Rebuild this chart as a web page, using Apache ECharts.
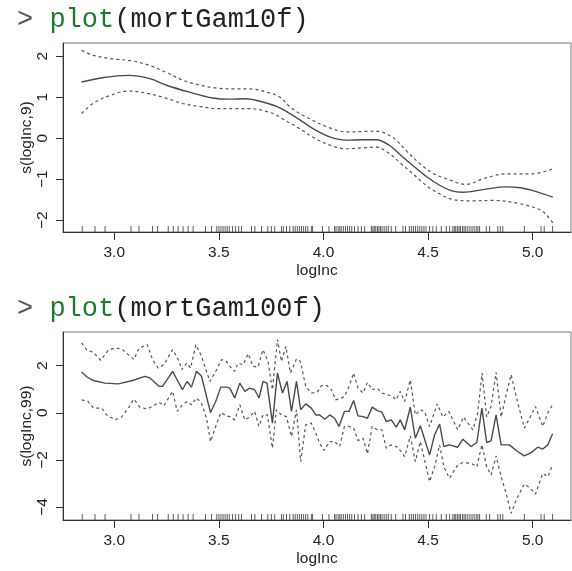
<!DOCTYPE html>
<html><head><meta charset="utf-8">
<script src="https://cdn.jsdelivr.net/npm/echarts@6/dist/echarts.min.js"></script>
<style>html,body{margin:0;padding:0;background:#fff}#c{width:572px;height:571px}</style>
</head><body><div id="c"></div>
<script>
// ---- tick labels ----
const xTicks = [3.0, 3.5, 4.0, 4.5, 5.0];
const yTicksTop = [-2, -1, 0, 1, 2];
const yTicksBot = [-4, -2, 0, 2];
const titleTop = 'mortGam10f';
const titleBot = 'mortGam100f';
const yNameTop = 's(logInc,9)';
const yNameBot = 's(logInc,99)';
const xName = 'logInc';

// ---- rug (observed logInc values) ----
const rugX = [2.847, 2.908, 2.956, 3.080, 3.118, 3.183, 3.207, 3.258, 3.282, 3.305, 3.329, 3.353, 3.377,
  3.436, 3.465, 3.49, 3.50, 3.51, 3.52, 3.53, 3.54, 3.55, 3.565, 3.58, 3.595, 3.608, 3.656, 3.672,
  3.704, 3.734, 3.751, 3.767, 3.799, 3.808, 3.823, 3.839, 3.855, 3.865, 3.875, 3.885, 3.895, 3.905,
  3.915, 3.925, 3.942, 3.948, 3.995, 4.026, 4.053, 4.06, 4.07, 4.078, 4.085, 4.095, 4.105, 4.115,
  4.125, 4.135, 4.148, 4.165, 4.181, 4.197, 4.229, 4.236, 4.243, 4.25, 4.258, 4.265, 4.272, 4.28,
  4.29, 4.30, 4.31, 4.324, 4.345, 4.38, 4.392, 4.41, 4.42, 4.43, 4.44, 4.45, 4.46, 4.47, 4.48, 4.49,
  4.507, 4.523, 4.539, 4.563, 4.587, 4.603, 4.618, 4.625, 4.632, 4.64, 4.648, 4.655, 4.665, 4.672,
  4.68, 4.69, 4.70, 4.71, 4.72, 4.73, 4.738, 4.746, 4.778, 4.794, 4.833, 4.845, 4.857, 4.96, 5.04,
  5.055, 5.095];

// ---- top panel: s(logInc,9) ----
const fitTopX = [2.844, 2.95, 3.067, 3.17, 3.25, 3.36, 3.47, 3.55, 3.63, 3.71, 3.791, 3.886, 3.95, 4.03,
  4.11, 4.18, 4.253, 4.316, 4.37, 4.427, 4.49, 4.555, 4.61, 4.666, 4.77, 4.873, 4.94, 5.0, 5.05, 5.096];
const fitTopY = [1.37, 1.48, 1.53, 1.45, 1.29, 1.12, 0.98, 0.95, 0.96, 0.88, 0.74, 0.45, 0.23, 0.03,
  -0.05, -0.04, -0.04, -0.18, -0.42, -0.67, -0.93, -1.15, -1.28, -1.32, -1.25, -1.19, -1.21, -1.28, -1.36, -1.44];
const upTopX = [2.844, 2.90, 2.98, 3.09, 3.17, 3.25, 3.33, 3.41, 3.49, 3.57, 3.65, 3.73, 3.791, 3.85,
  3.95, 4.03, 4.11, 4.18, 4.253, 4.33, 4.40, 4.46, 4.52, 4.587, 4.68, 4.77, 4.873, 5.0, 5.096];
const upTopY = [2.14, 2.02, 1.94, 1.88, 1.77, 1.60, 1.41, 1.29, 1.22, 1.20, 1.20, 1.12, 1.00, 0.72,
  0.43, 0.25, 0.15, 0.16, 0.17, 0.02, -0.33, -0.62, -0.85, -0.99, -1.13, -0.98, -0.87, -0.87, -0.75];
const loTopX = [2.844, 2.90, 2.98, 3.067, 3.17, 3.25, 3.33, 3.41, 3.49, 3.57, 3.65, 3.76, 3.791, 3.886,
  3.95, 4.03, 4.11, 4.18, 4.253, 4.316, 4.37, 4.427, 4.49, 4.54, 4.62, 4.71, 4.81, 4.94, 5.04, 5.07, 5.096];
const loTopY = [0.60, 0.85, 1.04, 1.15, 1.08, 0.97, 0.84, 0.77, 0.72, 0.72, 0.72, 0.60, 0.51, 0.23,
  0.02, -0.17, -0.26, -0.24, -0.22, -0.38, -0.62, -0.87, -1.15, -1.32, -1.50, -1.53, -1.52, -1.60, -1.76, -1.90, -2.07];

// ---- bottom panel: s(logInc,99) ----
const fitBotX = [2.844, 2.87, 2.90, 2.956, 3.019, 3.083, 3.147, 3.17, 3.215, 3.231, 3.279, 3.326, 3.348,
  3.369, 3.393, 3.417, 3.46, 3.485, 3.509, 3.536, 3.552, 3.576, 3.60, 3.624, 3.647, 3.671, 3.692, 3.711,
  3.73, 3.756, 3.78, 3.804, 3.826, 3.847, 3.871, 3.891, 3.915, 3.942, 3.963, 3.982, 4.006, 4.03, 4.053,
  4.074, 4.10, 4.122, 4.144, 4.165, 4.189, 4.21, 4.233, 4.257, 4.279, 4.30, 4.324, 4.348, 4.367, 4.388,
  4.415, 4.439, 4.463, 4.507, 4.531, 4.555, 4.575, 4.602, 4.642, 4.666, 4.706, 4.733, 4.757, 4.78,
  4.801, 4.825, 4.849, 4.889, 4.921, 4.96, 4.992, 5.024, 5.048, 5.072, 5.095];
const fitBotY = [1.73, 1.52, 1.37, 1.26, 1.23, 1.36, 1.55, 1.48, 1.12, 1.12, 1.76, 0.98, 1.33,
  1.09, 1.76, 1.55, 0.01, 0.48, 1.09, 1.09, 1.05, 0.63, 1.26, 0.91, 1.05, 0.98, 0.63, 1.33,
  1.26, -0.44, 1.69, 0.84, 1.33, 0.06, 1.33, 0.13, 0.38, 0.20, -0.09, -0.09, -0.27, -0.09, -0.23,
  -0.58, 0.06, 0.06, 0.52, -0.13, -0.16, -0.23, 0.24, 0.09, 0.03, -0.37, -0.30, -0.61, -0.30, -0.72,
  0.24, -1.08, -0.55, -1.79, -0.94, -0.48, -1.43, -1.36, -1.46, -1.12, -1.43, -1.26, 0.20, -1.26,
  -1.19, -0.09, -1.36, -1.36, -1.60, -1.83, -1.69, -1.46, -1.54, -1.36, -0.89];
const upBotX = [2.844, 2.87, 2.90, 2.935, 2.971, 3.003, 3.035, 3.067, 3.094, 3.119, 3.158, 3.183, 3.21,
  3.237, 3.279, 3.31, 3.322, 3.346, 3.365, 3.39, 3.417, 3.457, 3.481, 3.513, 3.536, 3.552, 3.576, 3.592,
  3.616, 3.64, 3.663, 3.687, 3.711, 3.735, 3.756, 3.78, 3.799, 3.82, 3.842, 3.871, 3.89, 3.915, 3.942,
  3.969, 3.99, 4.017, 4.038, 4.058, 4.08, 4.10, 4.122, 4.144, 4.165, 4.189, 4.21, 4.233, 4.257, 4.279,
  4.306, 4.33, 4.348, 4.367, 4.388, 4.415, 4.439, 4.463, 4.483, 4.507, 4.544, 4.57, 4.599, 4.618, 4.642,
  4.669, 4.714, 4.737, 4.758, 4.78, 4.801, 4.825, 4.849, 4.873, 4.897, 4.921, 4.96, 4.988, 5.013,
  5.048, 5.072, 5.095];
const upBotY = [2.97, 2.65, 2.57, 2.23, 2.65, 2.75, 2.71, 2.47, 2.26, 2.75, 2.89, 2.26, 1.90,
  2.04, 2.68, 2.18, 1.83, 2.11, 1.90, 2.89, 2.40, 1.33, 1.69, 2.26, 2.18, 1.97, 1.76, 2.11,
  2.04, 2.51, 1.97, 1.94, 2.68, 2.18, 0.98, 3.11, 2.18, 2.82, 1.69, 2.29, 2.18, 1.12, 0.84,
  0.87, 1.15, 1.15, 0.98, 0.55, 0.60, 0.69, 1.12, 1.69, 1.05, 0.84, 1.29, 0.98, 1.05, 0.84,
  0.77, 0.69, 0.55, 0.91, 0.48, 1.40, -0.09, 0.13, 0.06, -0.58, 0.38, -0.18, 0.06, -0.30, -0.72,
  -0.18, -0.72, -0.01, 1.69, -0.18, 0.27, 1.72, -0.18, 0.77, 1.62, 0.69, -0.65, -0.18, 0.27,
  -0.58, -0.01, 0.34];
const loBotX = [2.844, 2.875, 2.90, 2.94, 2.964, 3.003, 3.035, 3.067, 3.094, 3.122, 3.158, 3.186, 3.215,
  3.237, 3.279, 3.301, 3.322, 3.348, 3.369, 3.393, 3.417, 3.441, 3.46, 3.485, 3.509, 3.536, 3.552, 3.576,
  3.60, 3.624, 3.647, 3.671, 3.692, 3.711, 3.732, 3.756, 3.775, 3.799, 3.823, 3.847, 3.871, 3.891, 3.915,
  3.942, 3.963, 3.982, 4.002, 4.03, 4.053, 4.077, 4.10, 4.122, 4.144, 4.165, 4.189, 4.21, 4.233, 4.257,
  4.279, 4.30, 4.324, 4.348, 4.372, 4.388, 4.415, 4.439, 4.463, 4.507, 4.531, 4.555, 4.575, 4.602, 4.642,
  4.666, 4.706, 4.733, 4.757, 4.78, 4.801, 4.825, 4.849, 4.873, 4.897, 4.921, 4.96, 4.988, 5.013, 5.048,
  5.072, 5.095];
const loBotY = [0.55, 0.48, 0.20, 0.20, -0.09, -0.30, -0.18, 0.20, 0.58, 0.24, 0.16, 0.30, 0.44,
  0.30, 0.91, 0.06, 0.30, 0.48, 0.34, 0.63, 0.41, -0.23, -1.22, -0.58, 0.01, -0.13, -0.16, -0.30,
  0.34, -0.30, -0.18, 0.06, -0.58, -0.09, -0.09, -1.50, 0.13, -0.09, -0.16, -1.01, 0.13, -2.07, -0.51,
  -0.44, -0.86, -1.29, -1.60, -1.22, -1.22, -1.43, -0.58, -0.58, -0.65, -1.18, -1.08, -1.74, -0.58, -0.72,
  -0.72, -1.50, -1.36, -1.43, -1.65, -1.86, -0.98, -2.07, -1.22, -2.92, -2.29, -1.36, -2.29, -2.78, -2.21,
  -2.11, -2.14, -2.29, -1.36, -2.29, -2.64, -1.83, -2.71, -3.42, -4.27, -3.70, -3.02, -3.20, -3.45, -2.57,
  -2.71, -2.21];

const zip = (xs, ys) => xs.map((x, i) => [x, ys[i]]);

const X_MIN = 2.755, X_MAX = 5.183;
const TOP_MIN = -2.29, TOP_MAX = 2.32;
const BOT_MIN = -4.55, BOT_MAX = 3.43;

const FONT = 'Liberation Sans, Arial, sans-serif';
const MONO = 'Liberation Mono, monospace';
const AX = '#333';

function makeTitle(name, top) {
  return {
    left: 12, top: top,
    text: '{a|>} {b|plot}{c|(' + name + ')}',
    textStyle: {
      fontFamily: MONO, fontSize: 27, fontWeight: 'normal', color: '#222',
      rich: {
        a: { fontFamily: MONO, fontSize: 27, color: '#555' },
        b: { fontFamily: MONO, fontSize: 27, color: '#1e7b2e' },
        c: { fontFamily: MONO, fontSize: 27, color: '#222' }
      }
    }
  };
}

function makeX(gi) {
  return {
    gridIndex: gi, type: 'value', min: X_MIN, max: X_MAX,
    axisLine: { show: true, onZero: false, lineStyle: { color: AX, width: 1 } },
    axisTick: { show: true, customValues: xTicks, length: 8, lineStyle: { color: AX } },
    axisLabel: { customValues: xTicks, formatter: v => v.toFixed(1), fontSize: 15.5, color: '#222',
      margin: 13, fontFamily: FONT },
    splitLine: { show: false },
    name: xName, nameLocation: 'middle', nameGap: 31,
    nameTextStyle: { fontSize: 15.5, color: '#222', fontFamily: FONT }
  };
}
function makeY(gi, mn, mx, ticks, name) {
  return {
    gridIndex: gi, type: 'value', min: mn, max: mx,
    axisLine: { show: true, onZero: false, lineStyle: { color: AX, width: 1 } },
    axisTick: { show: true, customValues: ticks, length: 7, lineStyle: { color: AX } },
    axisLabel: { customValues: ticks, rotate: 90, fontSize: 15.5, color: '#222', margin: 12,
      fontFamily: FONT, formatter: v => (v < 0 ? '\u2212' + Math.abs(v) : String(v)) },
    splitLine: { show: false },
    name: name, nameLocation: 'middle', nameGap: 28, nameRotate: 90, nameMoveOverlap: false,
    nameTextStyle: { fontSize: 15.5, color: '#222', fontFamily: FONT }
  };
}

function lineSeries(gi, data, dashed, smooth) {
  return {
    type: 'line', xAxisIndex: gi, yAxisIndex: gi, data: data, showSymbol: false,
    smooth: smooth, silent: true, clip: false,
    lineStyle: { color: dashed ? '#555' : '#4a4a4a', width: dashed ? 1.2 : 1.4, type: dashed ? [3, 3] : 'solid' }
  };
}
function rugSeries(gi, ymin) {
  return {
    type: 'scatter', xAxisIndex: gi, yAxisIndex: gi, silent: true, clip: false,
    data: rugX.map(x => [x, ymin]), symbol: 'rect', symbolSize: [1, 6], symbolOffset: [0, -3],
    itemStyle: { color: '#333' }
  };
}

const chart = echarts.init(document.getElementById('c'), null, { renderer: 'canvas' });
chart.setOption({
  animation: false,
  backgroundColor: '#fff',
  title: [makeTitle(titleTop, 1), makeTitle(titleBot, 290)],
  grid: [
    { left: 63, right: 1, top: 43, height: 189, show: true, borderColor: '#777', borderWidth: 1 },
    { left: 63, right: 1, top: 332, height: 188, show: true, borderColor: '#777', borderWidth: 1 }
  ],
  xAxis: [makeX(0), makeX(1)],
  yAxis: [makeY(0, TOP_MIN, TOP_MAX, yTicksTop, yNameTop), makeY(1, BOT_MIN, BOT_MAX, yTicksBot, yNameBot)],
  series: [
    lineSeries(0, zip(fitTopX, fitTopY), false, 0.35),
    lineSeries(0, zip(upTopX, upTopY), true, 0.35),
    lineSeries(0, zip(loTopX, loTopY), true, 0.35),
    rugSeries(0, TOP_MIN),
    lineSeries(1, zip(fitBotX, fitBotY), false, false),
    lineSeries(1, zip(upBotX, upBotY), true, false),
    lineSeries(1, zip(loBotX, loBotY), true, false),
    rugSeries(1, BOT_MIN)
  ]
});
</script>
</body></html>
